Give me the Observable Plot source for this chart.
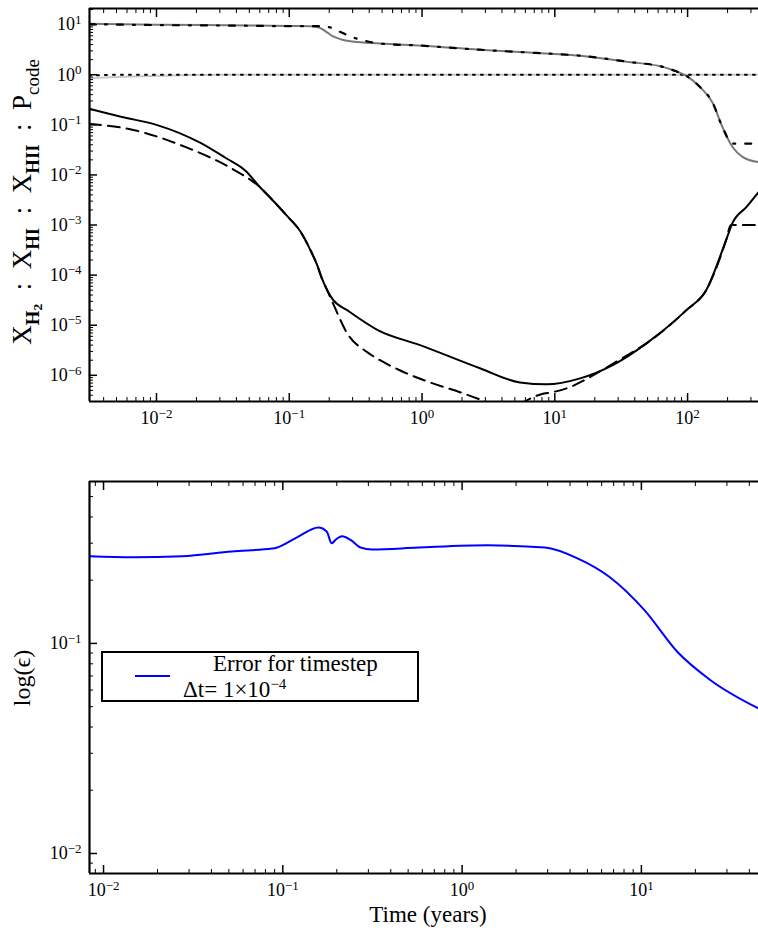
<!DOCTYPE html>
<html>
<head>
<meta charset="utf-8">
<script src="https://cdn.jsdelivr.net/npm/d3@7"></script>
<script src="https://cdn.jsdelivr.net/npm/@observablehq/plot@0.6"></script>
<style>
  html, body { margin: 0; padding: 0; background: #fff; }
  #wrap { width: 758px; height: 933px; overflow: hidden; }
  #wrap svg { display: block; }
</style>
</head>
<body>
<div id="wrap"></div>
<script>
// ---------- top panel data ----------
// X_H2 (solid black)
const tH2 = [0.0031, 0.0054, 0.01, 0.0213, 0.033, 0.047, 0.0605, 0.072, 0.0966, 0.121, 0.144, 0.162, 0.177, 0.193, 0.214, 0.273, 0.468, 0.966, 2.73, 5.46, 8.7, 15.5, 27.3, 49.3, 98, 138, 195, 218, 278, 342];
const xH2 = [0.21, 0.145, 0.1, 0.044, 0.022, 0.012, 0.0056, 0.0035, 0.0015, 0.00075, 0.00032, 0.00016, 0.000083, 0.00005, 0.000032, 0.00002, 0.0000079, 0.000004, 0.00000138, 0.00000072, 0.00000066, 0.00000087, 0.0000016, 0.0000044, 0.00002, 0.00005, 0.0005, 0.0011, 0.0023, 0.0045];
// X_H2 reference (dashed black)
const tH2ref = [0.0031, 0.0067, 0.017, 0.038, 0.0605, 0.072, 0.0966, 0.121, 0.144, 0.162, 0.177, 0.193, 0.214, 0.273, 0.386, 0.483, 0.68, 1.15, 1.93, 2.73, 4.6, 6.2, 7.9, 9.6, 12.3, 20.7, 27.3, 38.5, 49.3, 98, 138, 195, 212, 342];
const xH2ref = [0.105, 0.079, 0.035, 0.0128, 0.0056, 0.0035, 0.0015, 0.00075, 0.00032, 0.00016, 0.000083, 0.00005, 0.000027, 0.0000069, 0.0000029, 0.000002, 0.00000126, 0.00000072, 0.00000046, 0.00000033, 0.0000002, 0.00000032, 0.00000042, 0.00000046, 0.00000055, 0.0000011, 0.0000017, 0.0000029, 0.0000044, 0.00002, 0.00005, 0.0005, 0.001, 0.001];
// X_HI (solid grey)
const tHI = [0.0031, 0.01, 0.05, 0.1, 0.145, 0.17, 0.19, 0.214, 0.25, 0.3, 0.48, 1, 2.7, 6, 10, 15.5, 36, 64, 80, 98, 123, 155, 183, 218, 259, 342];
const xHI = [10.4, 10.0, 9.6, 9.4, 9.3, 8.6, 7.2, 5.8, 5.0, 4.6, 4.2, 3.8, 3.16, 2.8, 2.6, 2.4, 1.8, 1.45, 1.2, 0.95, 0.58, 0.27, 0.09, 0.036, 0.023, 0.018];
// X_HI reference (dash-dot black)
const tHIref = [0.0031, 0.01, 0.05, 0.1, 0.17, 0.21, 0.235, 0.3, 0.39, 0.48, 1, 2.7, 6, 10, 15.5, 36, 64, 80, 98, 123, 155, 183, 218, 342];
const xHIref = [10.2, 9.8, 9.5, 9.3, 9.3, 8.6, 7.4, 5.6, 4.6, 4.2, 3.8, 3.16, 2.8, 2.6, 2.4, 1.8, 1.45, 1.2, 0.95, 0.58, 0.27, 0.09, 0.042, 0.042];
// P_code (light grey solid) and reference (dotted black)
const tP = [0.0031, 0.005, 0.01, 0.03, 342];
const xP = [0.85, 0.9, 0.95, 1.0, 1.0];
const tPref = [0.0031, 0.006, 342];
const xPref = [0.97, 1.0, 1.0];

// ---------- bottom panel data ----------
const tErr = [0.00835, 0.0145, 0.0275, 0.052, 0.087, 0.09, 0.12, 0.158, 0.176, 0.187, 0.2, 0.214, 0.24, 0.271, 0.315, 0.57, 1.39, 2.9, 4.4, 6.7, 10.4, 15.9, 24.2, 45];
const vErr = [0.26, 0.257, 0.26, 0.274, 0.283, 0.284, 0.32, 0.356, 0.34, 0.30, 0.315, 0.324, 0.31, 0.286, 0.28, 0.286, 0.293, 0.286, 0.254, 0.206, 0.144, 0.091, 0.067, 0.049];

// ---------- axes ----------
const topXDomain = [0.00313, 342];
const topYDomain = [3.0e-7, 21];
const topXMajor = [1e-2, 1e-1, 1, 10, 100];
const topYMajor = [1e-6, 1e-5, 1e-4, 1e-3, 1e-2, 1e-1, 1, 10];
const botXDomain = [0.00835, 45];
const botYDomain = [0.00803, 0.59];
const botXMajor = [1e-2, 1e-1, 1, 10];
const botYMajor = [1e-2, 1e-1];

const legendLabel1 = "Error for timestep";
const legendLabel2 = "Δt= 1×10";
const legendExp = "−4";

const FONT = "'Liberation Serif', 'DejaVu Serif', serif";

function rows(t, v) { return t.map((d, i) => ({t: d, v: v[i]})); }
function minorTicks([lo, hi]) {
  const out = [];
  for (let k = Math.floor(Math.log10(lo)) ; k <= Math.ceil(Math.log10(hi)); k++)
    for (let m = 2; m <= 9; m++) {
      const v = m * Math.pow(10, k);
      if (v >= lo && v <= hi) out.push(v);
    }
  return out;
}
function fmtExp(d) {
  const e = Math.round(Math.log10(d));
  return "10^" + (e < 0 ? "−" + (-e) : String(e));
}
function frameAxes(xDom, yDom, xMaj, yMaj) {
  const none = () => "";
  return [
    Plot.axisX(xMaj, {anchor: "bottom", tickSize: 8, dy: -8, tickFormat: none, label: null, strokeWidth: 1.5}),
    Plot.axisX(minorTicks(xDom), {anchor: "bottom", tickSize: 4, dy: -4, tickFormat: none, label: null, strokeWidth: 1}),
    Plot.axisX(xMaj, {anchor: "top", tickSize: 8, dy: 8, tickFormat: none, label: null, strokeWidth: 1.5}),
    Plot.axisX(minorTicks(xDom), {anchor: "top", tickSize: 4, dy: 4, tickFormat: none, label: null, strokeWidth: 1}),
    Plot.axisY(yMaj, {anchor: "left", tickSize: 8, dx: 8, tickFormat: none, label: null, strokeWidth: 1.5}),
    Plot.axisY(minorTicks(yDom), {anchor: "left", tickSize: 4, dx: 4, tickFormat: none, label: null, strokeWidth: 1}),
    Plot.axisX(xMaj, {anchor: "bottom", tickSize: 0, tickPadding: 10, tickFormat: fmtExp, label: null}),
    Plot.axisY(yMaj, {anchor: "left", tickSize: 0, tickPadding: 8, tickFormat: fmtExp, label: null}),
    Plot.ruleX([xDom[0]], {strokeWidth: 2.2}),
    Plot.ruleY([yDom[0]], {strokeWidth: 2.2}),
    Plot.ruleY([yDom[1]], {strokeWidth: 2.2})
  ];
}
function supLabels(svg) {
  d3.select(svg).selectAll('g[aria-label="x-axis tick label"] text, g[aria-label="y-axis tick label"] text').each(function() {
    const t = this.textContent;
    if (!t.includes("^")) return;
    const [base, exp] = t.split("^");
    const sel = d3.select(this);
    sel.text(null);
    sel.append("tspan").text(base);
    sel.append("tspan").attr("dy", "-0.5em").attr("font-size", "0.72em").text(exp);
  });
}

// ---------- top plot ----------
const topPlot = Plot.plot({
  width: 758, height: 460,
  marginLeft: 89, marginRight: 0, marginTop: 8, marginBottom: 59,
  style: {fontFamily: FONT, fontSize: "18px", color: "black", background: "white", overflow: "visible"},
  x: {type: "log", domain: topXDomain},
  y: {type: "log", domain: topYDomain},
  marks: [
    Plot.line(rows(tP, xP), {x: "t", y: "v", stroke: "#c8c8c8", strokeWidth: 2, curve: "monotone-x", clip: true}),
    Plot.line(rows(tPref, xPref), {x: "t", y: "v", stroke: "black", strokeWidth: 2, strokeDasharray: "2,6", curve: "monotone-x", clip: true}),
    Plot.line(rows(tHI, xHI), {x: "t", y: "v", stroke: "#777", strokeWidth: 2, curve: "monotone-x", clip: true}),
    Plot.line(rows(tHIref, xHIref), {x: "t", y: "v", stroke: "black", strokeWidth: 2.2, strokeDasharray: "6,10,2,10", curve: "monotone-x", clip: true}),
    Plot.line(rows(tH2, xH2), {x: "t", y: "v", stroke: "black", strokeWidth: 2, curve: "monotone-x", clip: true}),
    Plot.line(rows(tH2ref, xH2ref), {x: "t", y: "v", stroke: "black", strokeWidth: 2, strokeDasharray: "12,7", curve: "monotone-x", clip: true}),
    ...frameAxes(topXDomain, topYDomain, topXMajor, topYMajor)
  ]
});
supLabels(topPlot);
{
  const s = d3.select(topPlot);
  const base = 27;
  const sep = "\u00a0\u00a0:\u00a0\u00a0";
  const segs = [
    ["X", 1, 0, false], ["H", 0.7, 0.28, true], ["2", 0.5, 0.42, true],
    [sep + "X", 1, 0, false], ["HI", 0.7, 0.28, true],
    [sep + "X", 1, 0, false], ["HII", 0.7, 0.28, true],
    [sep + "P", 1, 0, false], ["code", 0.7, 0.28, false]
  ];
  const txt = s.append("text")
    .attr("transform", "translate(31,202) rotate(-90)")
    .attr("text-anchor", "middle")
    .attr("font-family", FONT)
    .attr("font-size", base)
    .attr("fill", "black");
  let prev = 0;
  for (const [str, f, sh, b] of segs) {
    txt.append("tspan")
      .attr("dy", ((sh - prev) * base).toFixed(2))
      .attr("font-size", (f * base).toFixed(2))
      .attr("font-weight", b ? "bold" : "normal")
      .text(str);
    prev = sh;
  }
}

// ---------- bottom plot ----------
const botPlot = Plot.plot({
  width: 758, height: 473,
  marginLeft: 89, marginRight: 0, marginTop: 21, marginBottom: 60,
  style: {fontFamily: FONT, fontSize: "18px", color: "black", background: "white", overflow: "visible"},
  x: {type: "log", domain: botXDomain},
  y: {type: "log", domain: botYDomain},
  marks: [
    Plot.line(rows(tErr, vErr), {x: "t", y: "v", stroke: "#0000ff", strokeWidth: 2, curve: "monotone-x", clip: true}),
    ...frameAxes(botXDomain, botYDomain, botXMajor, botYMajor)
  ]
});
supLabels(botPlot);
{
  const s = d3.select(botPlot);
  s.append("text")
    .attr("transform", "translate(30,218) rotate(-90)")
    .attr("text-anchor", "middle")
    .attr("font-family", FONT).attr("font-size", 24).attr("fill", "black")
    .text("log(ϵ)");
  s.append("text")
    .attr("x", 428).attr("y", 462)
    .attr("text-anchor", "middle")
    .attr("font-family", FONT).attr("font-size", 23).attr("fill", "black")
    .text("Time (years)");
  const g = s.append("g").attr("text-anchor", "start");
  g.append("rect").attr("x", 102).attr("y", 192).attr("width", 316).attr("height", 49)
    .attr("fill", "white").attr("stroke", "black").attr("stroke-width", 2);
  g.append("line").attr("x1", 135).attr("x2", 170).attr("y1", 216).attr("y2", 216)
    .attr("stroke", "#0000ff").attr("stroke-width", 2);
  g.append("text").attr("x", 213).attr("y", 211).attr("text-anchor", "start")
    .attr("font-family", FONT).attr("font-size", 23).attr("fill", "black")
    .text(legendLabel1);
  const t2 = g.append("text").attr("x", 183).attr("y", 237).attr("text-anchor", "start")
    .attr("font-family", FONT).attr("font-size", 23).attr("fill", "black");
  t2.append("tspan").text(legendLabel2);
  t2.append("tspan").attr("dy", -8).attr("font-size", 15).text(legendExp);
}

document.getElementById("wrap").append(topPlot, botPlot);
</script>
</body>
</html>
